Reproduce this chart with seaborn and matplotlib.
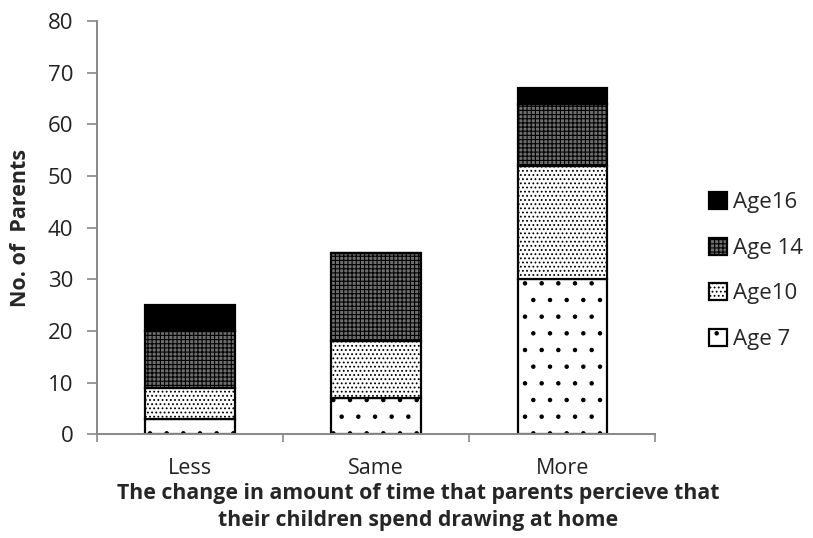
import matplotlib
matplotlib.use("Agg")
import matplotlib.pyplot as plt
import seaborn as sns
import pandas as pd
import numpy as np

categories = ["Less", "Same", "More"]
series = ["Age 7", "Age10", "Age 14", "Age16"]
age7 = [3, 7, 30]
age10 = [6, 11, 22]
age14 = [11, 17, 12]
age16 = [5, 0, 3]
values = [age7, age10, age14, age16]

sns.set_theme(style="white")
plt.rcParams['font.family'] = ['Open Sans', 'DejaVu Sans']
plt.rcParams['hatch.linewidth'] = 0.8

styles = {
    "Age 7": dict(color="white", hatch="."),
    "Age10": dict(color="white", hatch="...."),
    "Age 14": dict(color="#6e6e6e", hatch="++++"),
    "Age16": dict(color="black", hatch=None),
}

fig = plt.figure(figsize=(8.13, 5.38), dpi=100)
ax = fig.add_axes([0.119, 0.193, 0.687, 0.768])

bottom = np.zeros(len(categories))
for name, vals in zip(series, values):
    df = pd.DataFrame({"cat": categories, "val": vals})
    st = styles[name]
    sns.barplot(data=df, x="cat", y="val", order=categories, ax=ax,
                bottom=bottom, width=0.48, color=st["color"], saturation=1,
                edgecolor="black", linewidth=1.6, hatch=st["hatch"], label=name,
                errorbar=None)
    bottom = bottom + np.array(vals)

ax.set_ylim(0, 80)
ax.set_xlim(-0.5, 2.5)
ax.set_yticks(range(0, 81, 10))
ax.tick_params(axis="y", labelsize=16, length=7, width=1.2, color="#888888", direction="out", left=True, pad=10)
ax.tick_params(axis="x", labelsize=15.5, length=0, pad=17, labelcolor="#222222")
ax.tick_params(axis="y", labelcolor="#222222")
ax.set_xticks([-0.5, 0.5, 1.5, 2.5], minor=True)
ax.tick_params(axis="x", which="minor", length=6, width=1.2, color="#888888", direction="out", bottom=True)
for s in ["top", "right"]:
    ax.spines[s].set_visible(False)
for s in ["left", "bottom"]:
    ax.spines[s].set_color("#888888")
    ax.spines[s].set_linewidth(1.4)

ax.set_ylabel("No. of  Parents", fontsize=15.5, fontweight="bold")
ax.yaxis.set_label_coords(-0.118, 0.5)
ax.set_xlabel("The change in amount of time that parents percieve that\ntheir children spend drawing at home",
              fontsize=15.3, fontweight="bold", linespacing=1.35)
ax.xaxis.set_label_coords(0.575, -0.118)
ax.xaxis.label.set_va("top")

handles, labels = ax.get_legend_handles_labels()
ax.legend(handles[::-1], labels[::-1], loc="center left", bbox_to_anchor=(1.06, 0.395),
          frameon=False, fontsize=16, labelspacing=1.1, handlelength=0.8, handleheight=0.8,
          handletextpad=0.3)

fig.savefig("out.png", dpi=100)
